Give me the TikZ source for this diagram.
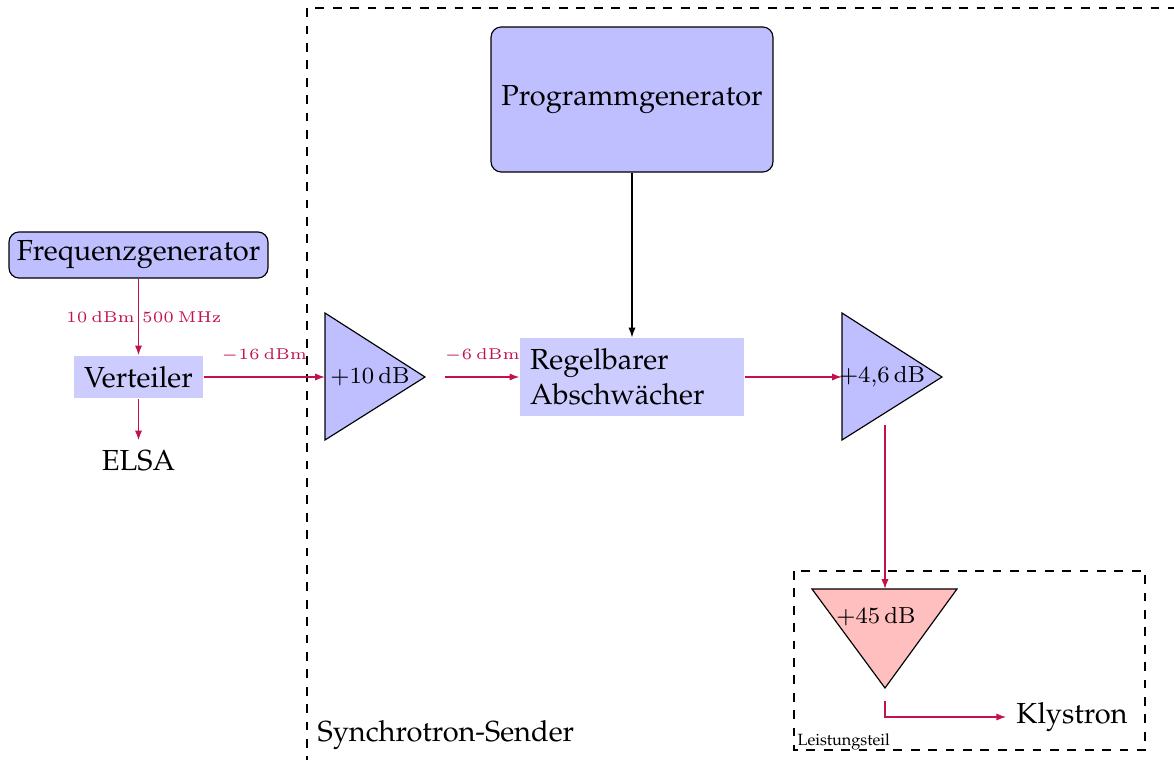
\RequirePackage{fix-cm}
\documentclass[tikz,border=0pt]{standalone}
\usepackage[T1]{fontenc}
\usepackage{palatino}
\usetikzlibrary{arrows.meta}
\definecolor{sigc}{RGB}{196,16,76}
\begin{document}
\begin{tikzpicture}[x=0.3448pt,y=-0.3448pt,
  sig/.style={draw=sigc, line width=0.5pt, -{Latex[length=3.4pt,width=2.5pt]}},
  ctl/.style={draw=black, line width=0.4pt, -{Latex[length=3.4pt,width=2.5pt]}},
  lbl/.style={text=sigc, font=\fontsize{5.4}{6.5}\selectfont, inner sep=1pt},
  gen/.style={draw=black, fill=blue!25, rounded corners=3.5pt, inner sep=0pt},
  blk/.style={fill=blue!20, inner sep=0pt},
  amp/.style={draw=black, line width=0.4pt, fill=blue!25},
  pamp/.style={draw=black, line width=0.4pt, fill=red!25},
  gain/.style={font=\footnotesize, inner sep=0pt},
  frame/.style={dashed, line width=0.4pt}]
\useasboundingbox (0,0) rectangle (1174,760);
\clip (0,0) rectangle (1174,760);

% frames
\draw[frame] (307,800) -- (307,8) -- (1200,8);
\node[anchor=base west, inner sep=0pt] (sender) at (317,742) {Synchrotron-Sender};
\draw[frame] (794,571) rectangle (1145,750);
\node[anchor=base west, inner sep=0pt, font=\fontsize{5.6}{7}\selectfont] (lt) at (797,745) {Leistungsteil};

% blocks
\node[gen, minimum width=89.3pt, minimum height=15.9pt] (fg) at (138.5,255) {Frequenzgenerator};
\node[blk, minimum width=44.5pt, minimum height=14.5pt] (vt) at (138.5,377) {Verteiler};
\node (elsa) at (138.5,461) {ELSA};
\node[gen, minimum width=97.2pt, minimum height=50pt] (pg) at (632,99.5) {Programmgenerator};
\node[blk, minimum height=26.9pt, text width=70.3pt, align=left, inner xsep=3.45pt] (ra) at (632,377) {Regelbarer\\Abschw\"acher};
\node (kly) at (1072,717) {Klystron};

% amplifiers
\draw[amp] (325,313) -- (425,377) -- (325,440) -- cycle;
\coordinate (a1l) at (325,377);
\coordinate (a1o) at (445,377);
\node[gain] (g1) at (370,377) {$+10\,\mathrm{dB}$};

\draw[amp] (842,313) -- (942,377) -- (842,440) -- cycle;
\coordinate (a2l) at (842,377);
\coordinate (a2o) at (885,425);
\node[gain] (g2) at (882,377) {$+4{,}6\,\mathrm{dB}$};

\draw[pamp] (812,589) -- (957,589) -- (885,688) -- cycle;
\coordinate (a3t) at (885,589);
\coordinate (a3o) at (885,701);
\node[gain] (g3) at (876,617) {$+45\,\mathrm{dB}$};

% connectors
\draw[sig] (fg) -- node[lbl, left]{$10\,\mathrm{dBm}$} node[lbl, right]{$500\,\mathrm{MHz}$} (vt);
\draw[sig] (vt) -- (elsa);
\draw[sig] (vt.east) -- node[lbl, above=3.8pt]{$-16\,\mathrm{dBm}$} (a1l);
\draw[sig] (a1o) -- node[lbl, above=3.8pt]{$-6\,\mathrm{dBm}$} (ra.west);
\draw[ctl] (pg) -- (ra);
\draw[sig] (ra.east) -- (a2l);
\draw[sig] (a2o) -- (a3t);
\draw[sig] (a3o) |- (kly);
\end{tikzpicture}
\end{document}
